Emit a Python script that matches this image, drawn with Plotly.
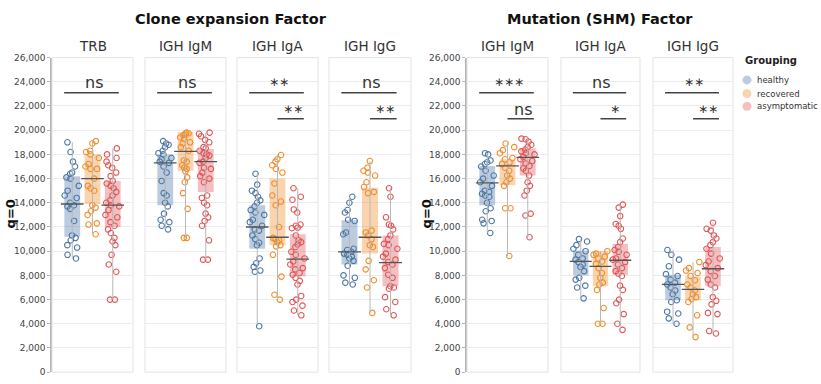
import numpy as np
import plotly.graph_objects as go

W, H = 821, 384

groups = ["healthy", "recovered", "asymptomatic"]
line_colors = ["#4e79a7", "#f28e2b", "#e15759"]
fill_colors = ["rgba(78,121,167,0.38)", "rgba(242,142,43,0.38)", "rgba(225,87,89,0.38)"]

section_titles = ["Clone expansion Factor", "Mutation (SHM) Factor"]
panel_titles = ["TRB", "IGH IgM", "IGH IgA", "IGH IgG", "IGH IgM", "IGH IgA", "IGH IgG"]
y_ticks = list(range(0, 26001, 2000))

# ---- Clone expansion Factor ----
ce_trb_h = [19000, 18200, 17400, 17000, 16500, 16400, 16100, 16000, 15400, 15000, 14600, 14400, 14000, 13800,
            13700, 13500, 12500, 11300, 11100, 10900, 10500, 10300, 9700, 9400]
ce_trb_r = [19100, 18900, 18300, 18200, 18000, 17700, 17200, 17000, 16800, 16800, 16000, 15400, 15200, 15000,
            13800, 13600, 13300, 13000, 12300, 12200, 11400]
ce_trb_a = [18500, 18000, 17700, 17400, 17100, 16900, 16500, 16200, 15800, 15600, 15400, 15200, 14900, 14600,
            14200, 14000, 13800, 13700, 13400, 13000, 12800, 12400, 12100, 11800, 11500, 11100, 10800, 10500,
            9700, 8900, 8300, 6000, 6000]

ce_igm_h = [19100, 18900, 18800, 18600, 18300, 18100, 18000, 17700, 17600, 17400, 17300, 17000, 16500, 15800,
            14800, 14600, 14000, 13700, 13100, 12600, 12400, 12100, 11800]
ce_igm_r = [19800, 19750, 19700, 19600, 19400, 19300, 19000, 18900, 18600, 18300, 17500, 17400, 17100, 16900,
            16800, 16600, 16100, 15700, 14800, 13500, 11100, 11100]
ce_igm_a = [19800, 19700, 19500, 19200, 19000, 18600, 18500, 18300, 18100, 18000, 17900, 17700, 17400, 17300,
            16900, 16800, 16500, 16200, 16000, 15700, 14600, 14400, 14000, 13800, 13100, 12800, 12500, 12100,
            10900, 9300, 9300]

ce_iga_h = [16400, 15500, 15000, 14800, 14500, 14200, 14000, 13700, 13400, 13200, 13000, 12600, 12400, 12100,
            11800, 11700, 11300, 11000, 10700, 10500, 9400, 9000, 8700, 8400, 8300, 3800]
ce_iga_r = [17950, 17600, 17400, 17100, 16800, 16500, 15600, 14600, 14100, 13800, 12000, 11100, 11000, 10900,
            10750, 10500, 10400, 9700, 7900, 6400, 6000]
ce_iga_a = [15200, 14500, 14250, 13450, 13200, 12200, 12100, 11950, 11900, 11300, 10900, 10750, 10550, 10350,
            9950, 9700, 9400, 9150, 8900, 8600, 8500, 8200, 8050, 7800, 7550, 7250, 6300, 6000, 5800, 5500,
            5100, 4700]

ce_igg_h = [14500, 14000, 13400, 13200, 12600, 12500, 11550, 11400, 10200, 10100, 9950, 9800, 9700, 9550,
            9400, 9200, 8800, 8000, 7800, 7400, 7250]
ce_igg_r = [17450, 16900, 16650, 16500, 16250, 15700, 15300, 14900, 14800, 11700, 11550, 11300, 11000, 10500,
            10350, 9200, 8500, 7600, 7000, 4900]
ce_igg_a = [15200, 14500, 12800, 12200, 12100, 11800, 11300, 11000, 10600, 10500, 10200, 9800, 9550, 9300,
            9100, 8900, 8600, 8050, 7800, 7100, 7000, 6900, 6200, 5800, 5200, 4700]

# ---- Mutation (SHM) Factor ----
shm_igm_h = [18100, 18000, 17500, 17350, 17200, 17000, 16650, 16250, 16000, 15700, 15400, 15000, 14900, 14750,
             14600, 14500, 14000, 13550, 13300, 12600, 12500, 12300, 11500]
shm_igm_r = [18900, 18600, 18350, 18100, 17700, 17600, 17350, 17200, 16900, 16650, 16250, 16000, 15700, 15400,
             13550, 13550, 9600]
shm_igm_a = [19300, 19250, 19050, 18800, 18600, 18400, 18250, 18100, 18000, 17800, 17600, 17450, 17250, 17050,
             16850, 16650, 16250, 15700, 15400, 15000, 14600, 13100, 12950, 11150]

shm_iga_h = [11000, 10800, 10500, 10200, 10000, 9700, 9400, 9300, 9100, 8900, 8700, 8350, 7800, 7650, 7150,
             7000, 6100]
shm_iga_r = [10000, 9800, 9700, 9550, 9400, 9150, 8950, 8600, 8200, 7800, 7400, 7250, 6800, 5300, 4000, 4000]
shm_iga_a = [13850, 13600, 12900, 12250, 12100, 11850, 11050, 10750, 10350, 10100, 9950, 9700, 9400, 9300,
             9100, 8900, 8600, 8350, 8150, 7950, 7150, 6800, 6000, 5700, 4800, 4000, 3500]

shm_igg_h = [10100, 9700, 9300, 8750, 8100, 7950, 7650, 7400, 7250, 7000, 6750, 6450, 5950, 5800, 5000, 4850,
             4450, 4000]
shm_igg_r = [9100, 8600, 8400, 8200, 7950, 7600, 7250, 7000, 6750, 6450, 6200, 6050, 5800, 4700, 3700, 2900]
shm_igg_a = [12350, 11850, 11700, 11300, 11050, 10750, 10500, 10200, 9800, 9400, 9150, 8850, 8600, 8350, 7950,
             7650, 7250, 7000, 6200, 5900, 5600, 4900, 4800, 3400, 3200]

panel_points = [
    [ce_trb_h, ce_trb_r, ce_trb_a],
    [ce_igm_h, ce_igm_r, ce_igm_a],
    [ce_iga_h, ce_iga_r, ce_iga_a],
    [ce_igg_h, ce_igg_r, ce_igg_a],
    [shm_igm_h, shm_igm_r, shm_igm_a],
    [shm_iga_h, shm_iga_r, shm_iga_a],
    [shm_igg_h, shm_igg_r, shm_igg_a],
]

# box statistics (healthy, recovered, asymptomatic)
q1_vals = [[11200, 13900, 12000], [13800, 16650, 14900], [10200, 10500, 7900], [8900, 9800, 7100],
           [13800, 15450, 16250], [8000, 7100, 8050], [5950, 5950, 7100]]
median_vals = [[13900, 16000, 13800], [17300, 18250, 17400], [12000, 11150, 9350], [9950, 11150, 9050],
               [15650, 17050, 17750], [9150, 8750, 9250], [7250, 6850, 8550]]
q3_vals = [[16200, 18000, 15800], [18000, 19850, 18450], [13800, 16000, 11400], [12550, 15250, 11300],
           [17050, 17600, 18500], [10050, 10000, 10600], [8050, 7900, 10350]]

sig_long = ["ns", "ns", "∗∗", "ns", "∗∗∗", "ns", "∗∗"]
sig_short = ["", "", "∗∗", "∗∗", "ns", "∗", "∗∗"]

# ---------------- layout geometry ----------------
panel_px = [(52, 133), (145, 226), (237, 318), (329, 411), (467, 548), (561, 640), (653, 733)]
y_top_px, y_bot_px = 54, 377
ydom = [(H - y_bot_px) / H, (H - y_top_px) / H]

fig = go.Figure()
BOX_W = 0.78
MED_HW = 0.56

for p in range(7):
    xa = "x" if p == 0 else f"x{p+1}"
    ya = "y" if p < 4 else "y2"
    for g in range(3):
        pts = panel_points[p][g]
        q1, md, q3 = q1_vals[p][g], median_vals[p][g], q3_vals[p][g]
        fig.add_trace(go.Bar(x=[g], y=[q3 - q1], base=[q1], width=BOX_W, xaxis=xa, yaxis=ya,
                             marker=dict(color=fill_colors[g], line=dict(width=0)), showlegend=False,
                             hoverinfo="skip"))
        fig.add_trace(go.Scatter(x=[g, g], y=[min(pts), max(pts)], mode="lines", xaxis=xa, yaxis=ya,
                                 line=dict(color="#b8b8b8", width=1), showlegend=False, hoverinfo="skip"))
        fig.add_trace(go.Box(x=[g] * len(pts), y=pts, xaxis=xa, yaxis=ya, boxpoints="all", jitter=1,
                             pointpos=0, width=BOX_W, fillcolor="rgba(0,0,0,0)", line=dict(width=0),
                             marker=dict(symbol="circle-open", size=5.5, color=line_colors[g],
                                         line=dict(width=1.1, color=line_colors[g])),
                             showlegend=False, hoverinfo="y"))
        fig.add_trace(go.Scatter(x=[g - MED_HW, g + MED_HW], y=[md, md], mode="lines", xaxis=xa, yaxis=ya,
                                 line=dict(color="#555555", width=1.3), showlegend=False, hoverinfo="skip"))

layout = dict(
    width=W, height=H, margin=dict(l=0, r=0, t=0, b=0),
    paper_bgcolor="white", plot_bgcolor="white",
    barmode="overlay", boxmode="overlay", showlegend=False,
    font=dict(family="DejaVu Sans", color="#333"),
)
shapes = []
annotations = []
for p in range(7):
    key = "xaxis" if p == 0 else f"xaxis{p+1}"
    x0, x1 = panel_px[p]
    layout[key] = dict(domain=[x0 / W, x1 / W], range=[-1, 3], showticklabels=False, showgrid=False,
                       zeroline=False, showline=False, fixedrange=True, anchor="y" if p < 4 else "y2")
    xref = "x" if p == 0 else f"x{p+1}"
    yref = "y" if p < 4 else "y2"
    shapes.append(dict(type="rect", xref=f"{xref} domain", yref=f"{yref} domain", x0=0, x1=1, y0=0, y1=1,
                       line=dict(color="#e3e3e3", width=1), layer="above"))
    # panel title
    annotations.append(dict(text=panel_titles[p], x=(x0 + x1) / 2 / W, y=1 - 42 / H, xref="paper", yref="paper",
                            showarrow=False, font=dict(size=13.5, color="#333"), xanchor="center", yanchor="middle"))
    # significance bars
    shapes.append(dict(type="line", xref=xref, yref=yref, x0=-0.4, x1=2.3, y0=23100, y1=23100,
                       line=dict(color="#444", width=1.6)))
    annotations.append(dict(text=sig_long[p], x=1.05, y=23950, xref=xref, yref=yref, showarrow=False,
                            font=dict(size=16 if "n" in sig_long[p] else 12, color="#333"),
                            xanchor="center", yanchor="middle"))
    if sig_short[p]:
        shapes.append(dict(type="line", xref=xref, yref=yref, x0=1.0, x1=2.3, y0=20950, y1=20950,
                           line=dict(color="#444", width=1.6)))
        annotations.append(dict(text=sig_short[p], x=1.75, y=21750, xref=xref, yref=yref, showarrow=False,
                                font=dict(size=16 if "n" in sig_short[p] else 12, color="#333"),
                                xanchor="center", yanchor="middle"))

yax = dict(domain=ydom, range=[0, 26000], tickvals=y_ticks, tickformat=",", showgrid=True, gridcolor="#ececec",
           gridwidth=1, zeroline=False, showline=True, linecolor="#b5b5b5", linewidth=1.5, ticks="outside",
           ticklen=3, tickcolor="#b5b5b5", tickfont=dict(size=9, color="#444"), fixedrange=True)
layout["yaxis"] = dict(yax, anchor="x")
layout["yaxis2"] = dict(yax, anchor="x5")

# section titles
annotations.append(dict(text="<b>Clone expansion Factor</b>", x=231 / W, y=1 - 14 / H, xref="paper", yref="paper",
                        showarrow=False, font=dict(size=14.5, color="#111"), xanchor="center", yanchor="middle"))
annotations.append(dict(text="<b>Mutation (SHM) Factor</b>", x=600 / W, y=1 - 14 / H, xref="paper", yref="paper",
                        showarrow=False, font=dict(size=14.5, color="#111"), xanchor="center", yanchor="middle"))
# y titles
for xc in (10, 426):
    annotations.append(dict(text="<b>q=0</b>", x=xc / W, y=1 - 215 / H, xref="paper", yref="paper",
                            showarrow=False, textangle=-90, font=dict(size=13, color="#111"),
                            xanchor="center", yanchor="middle"))

# legend (drawn manually)
annotations.append(dict(text="<b>Grouping</b>", x=743 / W, y=1 - 57 / H, xref="paper", yref="paper",
                        showarrow=False, font=dict(size=10, color="#222"), xanchor="left", yanchor="middle"))
for g, yc in enumerate((77, 91, 104)):
    shapes.append(dict(type="circle", xref="paper", yref="paper", x0=(747 - 4.5) / W, x1=(747 + 4.5) / W,
                       y0=1 - (yc + 4.5) / H, y1=1 - (yc - 4.5) / H, fillcolor=fill_colors[g],
                       line=dict(width=0)))
    annotations.append(dict(text=groups[g], x=755 / W, y=1 - yc / H, xref="paper", yref="paper",
                            showarrow=False, font=dict(size=8.5, color="#333"), xanchor="left", yanchor="middle"))

layout["shapes"] = shapes
layout["annotations"] = annotations
fig.update_layout(**layout)
fig.write_html("out.html", config={"displayModeBar": False},
               post_script="document.body.style.margin='0';document.body.style.overflow='hidden';")
